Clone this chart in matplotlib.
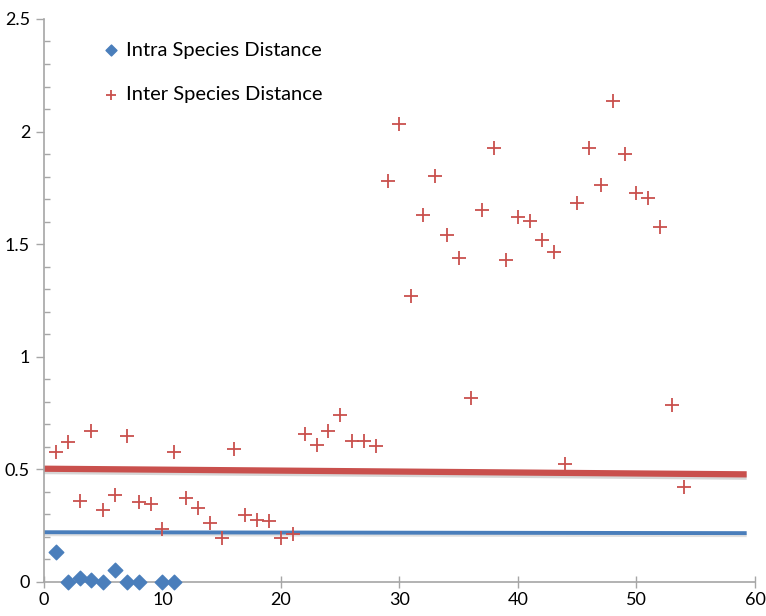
import matplotlib
matplotlib.use("Agg")
import matplotlib.pyplot as plt
import numpy as np
from matplotlib.ticker import MultipleLocator

plt.rcParams['font.family'] = ['Lato', 'DejaVu Sans']

# Intra species distance (blue diamonds)
intra_x = [1, 2, 3, 4, 5, 6, 7, 8, 10, 11]
intra_y = [0.131, 0.0, 0.019, 0.009, 0.0, 0.053, 0.0, 0.0, 0.0, 0.0]

# Inter species distance (red crosses)
inter_x = list(range(1, 55))
inter_y = [0.576, 0.62, 0.36, 0.67, 0.32, 0.387, 0.65, 0.355, 0.346, 0.235,
           0.576, 0.373, 0.328, 0.261, 0.197, 0.589, 0.298, 0.276, 0.272, 0.195,
           0.212, 0.658, 0.61, 0.67, 0.741, 0.628, 0.625, 0.603, 1.779, 2.034,
           1.268, 1.63, 1.801, 1.541, 1.439, 0.815, 1.654, 1.927, 1.431, 1.62,
           1.605, 1.52, 1.467, 0.526, 1.682, 1.927, 1.761, 2.136, 1.902, 1.727,
           1.705, 1.575, 0.787, 0.422]

# threshold lines
line_x = [0, 59.3]
inter_line = [0.503, 0.478]
intra_line = [0.221, 0.217]

y_ticks = [0, 0.5, 1, 1.5, 2, 2.5]
y_labels = ['0', '0.5', '1', '1.5', '2', '2.5']
x_ticks = [0, 10, 20, 30, 40, 50, 60]

red = '#c9504d'
blue = '#4a7ebb'
axis_gray = '#a6a6a6'

fig = plt.figure(figsize=(7.66, 6.16), dpi=100)
ax = fig.add_axes([0.0574, 0.0552, 0.9282, 0.914])

# shadows under the lines
ax.plot(line_x, [v - 0.012 for v in inter_line], color='#bbbbbb', lw=4, alpha=0.6, solid_capstyle='butt')
ax.plot(line_x, [v - 0.01 for v in intra_line], color='#cccccc', lw=2.5, alpha=0.6, solid_capstyle='butt')
ax.plot(line_x, inter_line, color=red, lw=4.5, solid_capstyle='butt')
ax.plot(line_x, intra_line, color=blue, lw=2.8, solid_capstyle='butt')

ax.scatter(intra_x, intra_y, marker='D', s=55, color=blue, zorder=3,
           label='Intra Species Distance', clip_on=False)
ax.scatter(inter_x, inter_y, marker='+', s=90, color=red, linewidths=1.3, zorder=3,
           label='Inter Species Distance')

ax.set_xlim(0, 60)
ax.set_ylim(0, 2.5)
ax.set_xticks(x_ticks)
ax.set_yticks(y_ticks, labels=y_labels)
ax.yaxis.set_minor_locator(MultipleLocator(0.1))

for s in ['top', 'right']:
    ax.spines[s].set_visible(False)
for s in ['left', 'bottom']:
    ax.spines[s].set_color(axis_gray)
    ax.spines[s].set_linewidth(1.2)

ax.tick_params(axis='x', which='major', direction='inout', length=8, width=1,
               color=axis_gray, labelsize=13, pad=3)
ax.tick_params(axis='y', which='major', direction='out', length=6, width=1,
               color=axis_gray, labelsize=13, pad=4)
ax.tick_params(axis='y', which='minor', direction='in', length=4, width=1,
               color=axis_gray)

leg = ax.legend(loc='upper left', bbox_to_anchor=(0.07, 0.974), frameon=False,
                fontsize=14.5, handletextpad=0.3, labelspacing=1.35,
                handlelength=0.9, markerscale=0.75, borderaxespad=0)

fig.savefig('out.png', dpi=100)
